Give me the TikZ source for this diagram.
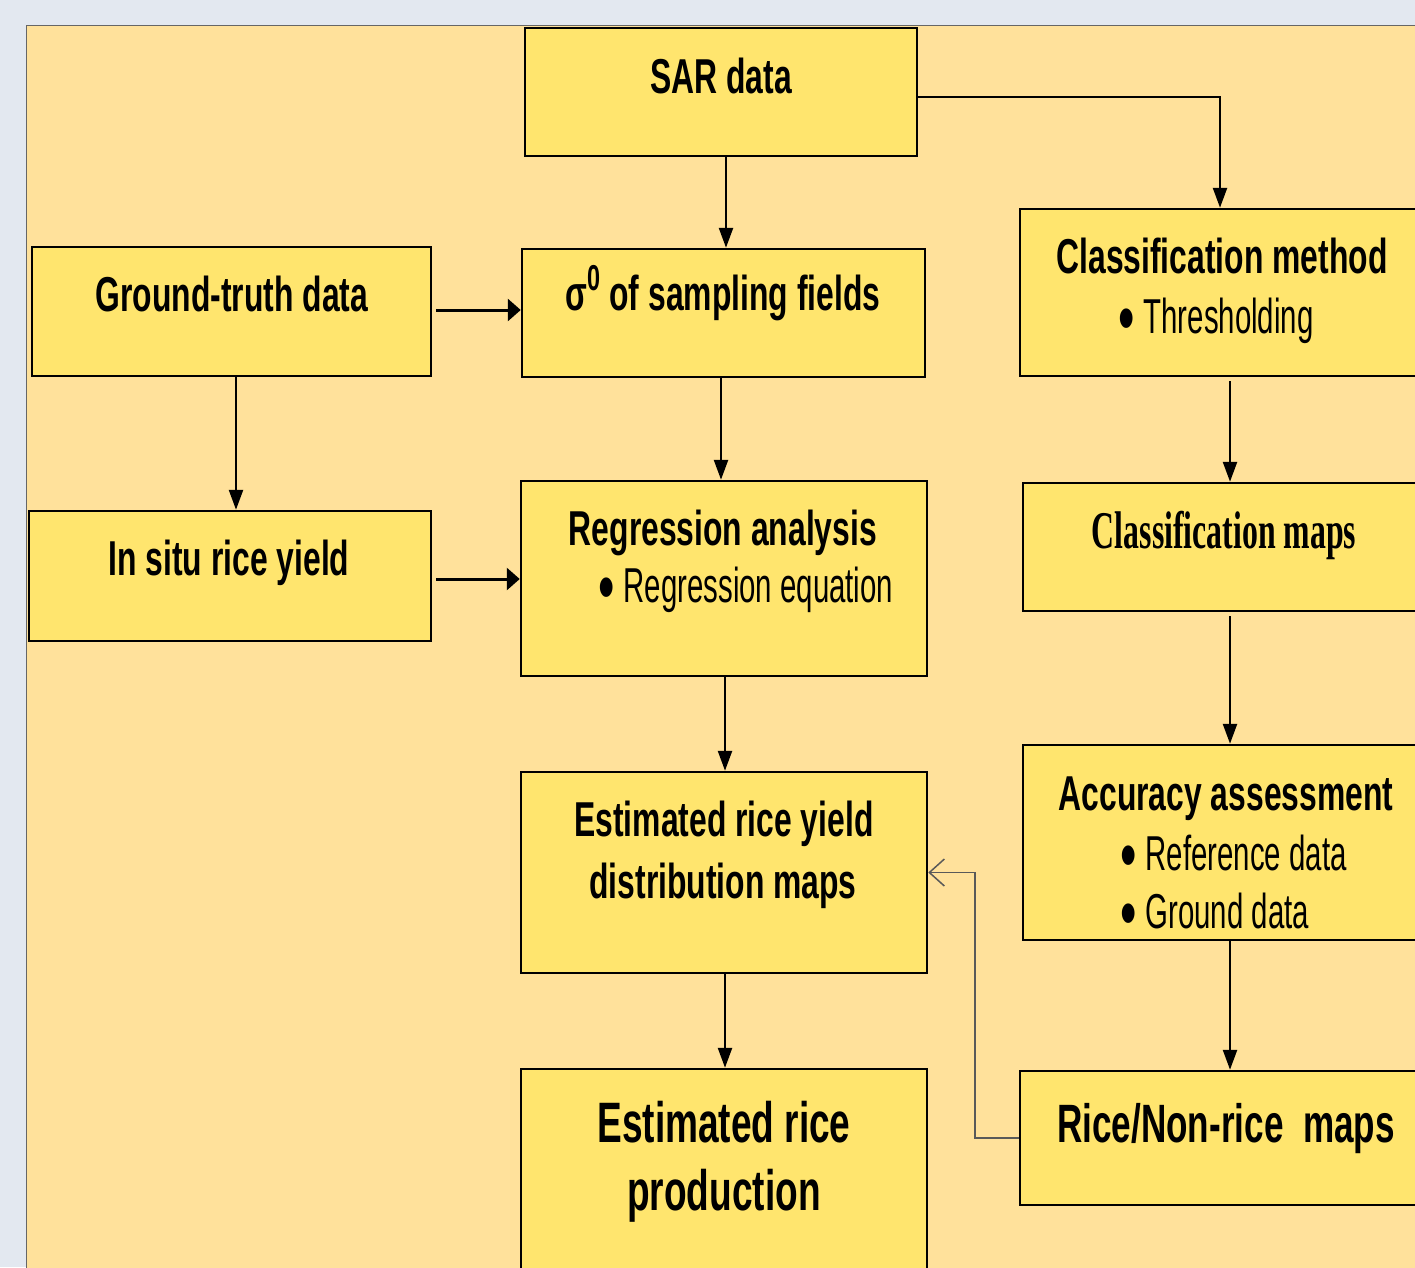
\documentclass[tikz,border=0pt]{standalone}
\usepackage{fontspec}
\setmainfont{Liberation Sans}
\newfontfamily\nsans[FakeStretch=0.65]{Liberation Sans}
\newfontfamily\nsansr[FakeStretch=0.6]{Liberation Sans}
\newfontfamily\nserif[FakeStretch=0.6]{Liberation Serif}
\usetikzlibrary{arrows.meta}
\definecolor{outerbg}{HTML}{E3E8F0}
\definecolor{panel}{HTML}{FFE19B}
\definecolor{boxfill}{HTML}{FFE56E}
\newcommand\ttlfont{\nsans\bfseries\fontsize{49}{55}\selectfont}
\newcommand\bigfont{\nsans\bfseries\fontsize{57}{62}\selectfont}
\newcommand\rnfont{\nsans\bfseries\fontsize{54}{60}\selectfont}
\newcommand\bulfont{\nsansr\fontsize{49}{52}\selectfont}
\newcommand\serfont{\nserif\bfseries\fontsize{53}{58}\selectfont}
\newcommand\bigdot{\smash{\raisebox{-9pt}{\nsans\fontsize{72}{72}\selectfont •}}\hspace{9pt}}
\begin{document}
\begin{tikzpicture}[x=1pt,y=-1pt,
  box/.style={draw=black,line width=2.5pt,fill=boxfill,inner sep=0pt},
  txt/.style={inner sep=0pt,anchor=base,font=\ttlfont},
  blt/.style={inner sep=0pt,anchor=base west,font=\bulfont},
  varr/.style={line width=2.5pt,-{Triangle[length=20pt,width=14pt]}},
  harr/.style={line width=3pt,-{Triangle[length=13pt,width=22pt]}},
  fb/.style={line width=1.5pt,draw=black!65,-{Straight Barb[length=15pt,width=27pt]}}
]
\useasboundingbox (0,0) rectangle (1415,1267);
\fill[outerbg] (0,0) rectangle (1415,1267);
\filldraw[fill=panel,draw=black!60,line width=1.5pt] (26.5,25.5) rectangle (1440,1290);

% boxes
\node[box,minimum width=392pt,minimum height=128pt] (sar) at (721,92) {};
\node[box,minimum width=399pt,minimum height=129pt] (gt) at (231.5,311.5) {};
\node[box,minimum width=403pt,minimum height=128pt] (sig) at (723.5,313) {};
\node[box,minimum width=410pt,minimum height=167pt] (cm) at (1225,292.5) {};
\node[box,minimum width=402pt,minimum height=130pt] (is) at (230,576) {};
\node[box,minimum width=406pt,minimum height=195pt] (reg) at (724,578.5) {};
\node[box,minimum width=407pt,minimum height=128pt] (cmap) at (1226.5,547) {};
\node[box,minimum width=406pt,minimum height=201pt] (ey) at (724,872.5) {};
\node[box,minimum width=407pt,minimum height=195pt] (acc) at (1226.5,842.5) {};
\node[box,minimum width=406pt,minimum height=221pt] (ep) at (724,1179.5) {};
\node[box,minimum width=410pt,minimum height=134pt] (rn) at (1225,1138) {};

% texts
\node[txt] (tsar) at (721,93) {SAR data};
\node[txt] (tgt) at (232,311) {Ground-truth data};
\node[txt] (tsig) at (723,310) {σ\raisebox{0.4em}{\fontsize{36}{36}\selectfont 0} of sampling fields};
\node[txt] (tcm) at (1222,273) {Classification method};
\node[blt] (tcmb) at (1118,333) {\bigdot Thresholding};
\node[txt] (tis) at (229,575) {In situ rice yield};
\node[txt] (treg) at (723,545) {Regression analysis};
\node[blt] (tregb) at (598,602) {\bigdot Regression equation};
\node[txt,font=\serfont] (tcmap) at (1224,548) {Classification maps};
\node[txt] (tey1) at (724,836) {Estimated rice yield};
\node[txt] (tey2) at (723,898) {distribution maps};
\node[txt] (tacc) at (1226,810) {Accuracy assessment};
\node[blt] (taccb1) at (1120,870) {\bigdot Reference data};
\node[blt] (taccb2) at (1120,928) {\bigdot Ground data};
\node[txt,font=\bigfont] (tep1) at (724,1142) {Estimated rice};
\node[txt,font=\bigfont] (tep2) at (724,1210) {production};
\node[txt,font=\rnfont] (trn) at (1226,1142) {Rice/Non-rice\ \ maps};

% connectors
\coordinate (a1) at ([xshift=5pt]sar.south);
\draw[varr] (a1) -- (a1 |- sig.north);
\coordinate (s1) at ([yshift=-5pt]sar.east);
\coordinate (c1) at ([xshift=-5pt]cm.north);
\draw[varr] (s1) -| (c1);
\coordinate (g1) at ([xshift=4pt,yshift=1.5pt]gt.east);
\draw[harr] (g1) -- (g1 -| sig.west);
\coordinate (g2) at ([xshift=4.5pt]gt.south);
\draw[varr] (g2) -- (g2 |- is.north);
\coordinate (s2) at ([xshift=-2.5pt]sig.south);
\draw[varr] (s2) -- (s2 |- reg.north);
\coordinate (i1) at ([xshift=4pt,yshift=-3pt]is.east);
\draw[harr] (i1) -- (i1 -| reg.west);
\coordinate (c2) at ([xshift=5pt,yshift=-4pt]cm.south);
\draw[varr] (c2) -- (c2 |- cmap.north);
\coordinate (m1) at ([xshift=3.5pt,yshift=-4pt]cmap.south);
\draw[varr] (m1) -- (m1 |- acc.north);
\coordinate (r1) at ([xshift=1pt]reg.south);
\draw[varr] (r1) -- (r1 |- ey.north);
\coordinate (ac1) at ([xshift=3.5pt]acc.south);
\draw[varr] (ac1) -- (ac1 |- rn.north);
\coordinate (e1) at ([xshift=1pt]ey.south);
\draw[varr] (e1) -- (e1 |- ep.north);
\coordinate (fbx) at (975,0);
\draw[fb] (rn.west) -| (fbx |- ey.east) -- (ey.east);
\end{tikzpicture}
\end{document}
